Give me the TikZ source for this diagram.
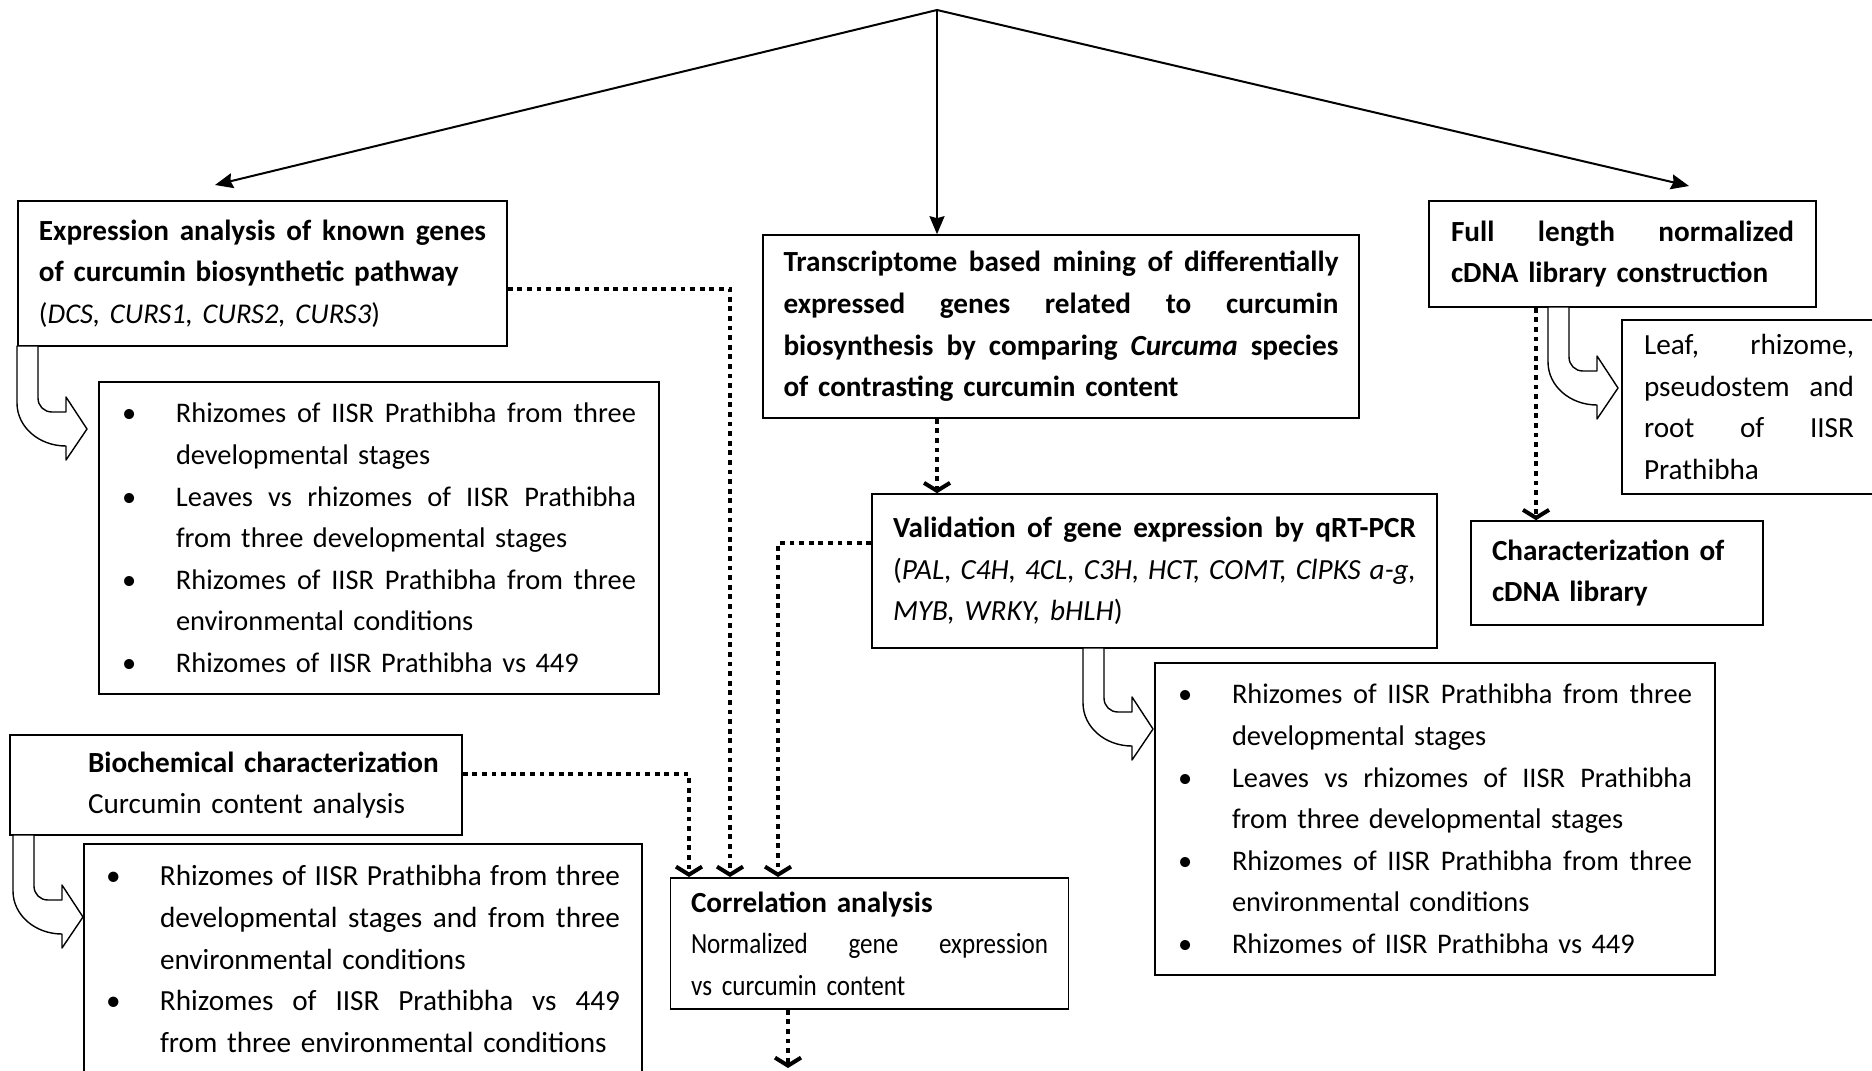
\documentclass[tikz,border=0pt]{standalone}
\usepackage{fontspec}
\setmainfont{Carlito}
\newfontfamily\corrfont[FakeStretch=0.86]{Carlito}
\usetikzlibrary{arrows.meta}

% text lines inside the boxes
\newcommand{\wordgap}{\spaceskip=0.226em plus 1fil minus 0.07em\relax}
\newcommand{\jline}[1]{\noindent\hbox to\hsize{\wordgap #1}\par}
\newcommand{\pline}[1]{\noindent #1\par}
\newcommand{\bjitem}[1]{\noindent\hbox to\hsize{\hbox to 27pt{\textbullet\hss}\wordgap #1}\par}
\newcommand{\bitem}[1]{\noindent\hbox to 27pt{\textbullet\hss}#1\par}
\newcommand{\bjcont}[1]{\noindent\hbox to\hsize{\hspace*{27pt}\wordgap #1}\par}
\newcommand{\bcont}[1]{\noindent\hspace*{27pt}#1\par}

% curved block arrow: left x, top y, tip y
\newcommand{\uturn}[3]{%
  \draw[uarrow] (#1,#2) -- (#1,{#3-26})
    .. controls (#1,{#3-2}) and ({#1+22},{#3+17}) .. ({#1+49},{#3+17})
    -- ({#1+49},{#3+31}) -- ({#1+70},#3) -- ({#1+49},{#3-32})
    -- ({#1+49},{#3-17}) -- ({#1+35},{#3-17})
    .. controls ({#1+27},{#3-17}) and ({#1+21},{#3-23}) .. ({#1+21},{#3-31})
    -- ({#1+21},#2) -- cycle;}

\begin{document}
\begin{tikzpicture}[x=0.5pt, y=-0.5pt, line width=0.8pt,
  flowbox/.style={draw, rectangle, inner sep=0pt, font=\fontsize{14.6}{20.8}\selectfont},
  listfont/.style={font=\fontsize{14.2}{20.8}\selectfont},
  solidarrow/.style={line width=1pt, -{Stealth[length=9pt,width=7.5pt,inset=1pt]}},
  dotarrow/.style={line width=2pt, dash pattern=on 2.4pt off 2.4pt, -{Straight Barb[length=4pt,width=13pt]}},
  uarrow/.style={draw, fill=white, line width=0.7pt, line join=round}]
\useasboundingbox (0,0) rectangle (1872,1070);

% Top split
\coordinate (top) at (937,10);
\coordinate (tl) at (215,185);
\coordinate (tr) at (1689,186);

% Known genes
\node (expr) [flowbox, minimum width=244.5pt, minimum height=72.5pt, text width=223.5pt] at (262.5,273.5)
  {\jline{\textbf{Expression analysis of known genes}}\pline{\textbf{of curcumin biosynthetic pathway}}%
   \pline{\fontsize{14.3}{20.8}\selectfont(\textit{DCS, CURS1, CURS2, CURS3})}};
\node (list1) [flowbox, listfont, minimum width=280pt, minimum height=156pt, text width=257pt] at (379,538)
  {\bjitem{Rhizomes of IISR Prathibha from three}\bcont{developmental stages}%
   \bjitem{Leaves vs rhizomes of IISR Prathibha}\bcont{from three developmental stages}%
   \bjitem{Rhizomes of IISR Prathibha from three}\bcont{environmental conditions}%
   \bitem{Rhizomes of IISR Prathibha vs 449}};

% Transcriptome
\node (trans) [flowbox, minimum width=298pt, minimum height=91.5pt, text width=277.5pt] at (1061,326.5)
  {\jline{\textbf{Transcriptome based mining of differentially}}\jline{\textbf{expressed genes related to curcumin}}%
   \jline{\textbf{biosynthesis by comparing \textit{Curcuma} species}}\pline{\textbf{of contrasting curcumin content}}};
\node (valid) [flowbox, minimum width=282.5pt, minimum height=77pt, text width=261.5pt] at (1154.5,571)
  {\jline{\textbf{Validation of gene expression by qRT-PCR}}\jline{(\textit{PAL, C4H, 4CL, C3H, HCT, COMT, ClPKS a-g,}}%
   \pline{\textit{MYB, WRKY, bHLH})}\vspace*{3pt}};
\node (list2) [flowbox, listfont, minimum width=280pt, minimum height=156pt, text width=257pt] at (1435,819)
  {\bjitem{Rhizomes of IISR Prathibha from three}\bcont{developmental stages}%
   \bjitem{Leaves vs rhizomes of IISR Prathibha}\bcont{from three developmental stages}%
   \bjitem{Rhizomes of IISR Prathibha from three}\bcont{environmental conditions}%
   \bitem{Rhizomes of IISR Prathibha vs 449}};

% cDNA library
\node (full) [flowbox, minimum width=193.5pt, minimum height=53pt, text width=171.5pt] at (1622.5,254)
  {\jline{\textbf{Full length normalized}}\pline{\textbf{cDNA library construction}}};
\node (leaf) [flowbox, minimum width=127pt, minimum height=87pt, text width=105pt] at (1749,407)
  {\jline{Leaf, rhizome,}\jline{pseudostem and}\jline{root of IISR}\pline{Prathibha}};
\node (charc) [flowbox, minimum width=146pt, minimum height=52pt, text width=125pt] at (1617,573)
  {\pline{\textbf{Characterization of}}\pline{\textbf{cDNA library}}};

% Biochemistry
\node (bioc) [flowbox, minimum width=226pt, minimum height=50pt, text width=216pt] at (236,785)
  {\pline{\hspace*{34pt}\textbf{Biochemical characterization}}\pline{\hspace*{34pt}Curcumin content analysis}};
\node (list3) [flowbox, minimum width=279pt, minimum height=115pt, text width=257pt] at (363,959)
  {\bjitem{Rhizomes of IISR Prathibha from three}\bjcont{developmental stages and from three}\bcont{environmental conditions}%
   \bjitem{Rhizomes of IISR Prathibha vs 449}\bcont{from three environmental conditions}};

% Correlation
\node (corr) [flowbox, minimum width=199pt, minimum height=65.5pt, text width=178.5pt] at (869.5,943.5)
  {\pline{\textbf{Correlation analysis}}%
   \jline{\corrfont Normalized gene expression}%
   \pline{\corrfont vs curcumin content}};

% Connections
\draw[solidarrow] (top) -- (tl);
\draw[solidarrow] (top) -- (top |- trans.north);
\draw[solidarrow] (top) -- (tr);

\coordinate (c1) at (689,877);
\coordinate (c2) at (730,877);
\coordinate (c3) at (778,877);
\draw[dotarrow] ([yshift=-7.5pt]expr.east) -| (c2);
\draw[dotarrow] ([yshift=5.5pt]bioc.east) -| (c1);
\draw[dotarrow] ([yshift=14pt]valid.west) -| (c3);
\draw[dotarrow] (trans.south -| top) -- (valid.north -| top);
\coordinate (fdrop) at (1536,300);
\draw[dotarrow] (full.south -| fdrop) -- (charc.north -| fdrop);
\coordinate (cend) at (788,1068);
\draw[dotarrow] (corr.south -| cend) -- (cend);

% Block arrows
\uturn{17}{346}{429}
\uturn{1083}{648}{729}
\uturn{1548}{307}{388}
\uturn{13}{835}{917}

\end{tikzpicture}
\end{document}
